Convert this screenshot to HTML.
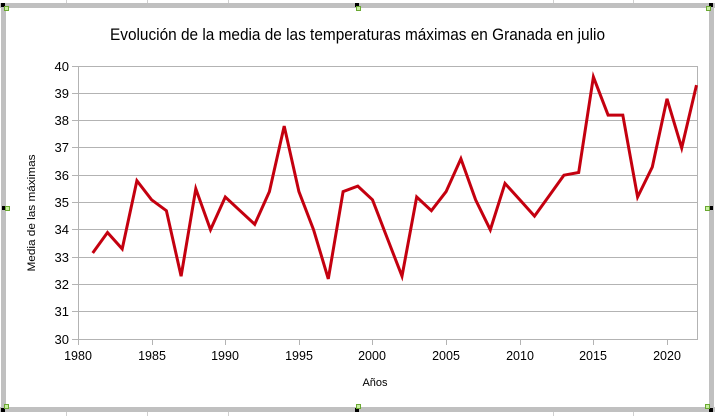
<!DOCTYPE html>
<html><head><meta charset="utf-8"><style>
html,body{margin:0;padding:0;background:#fff;}
svg{display:block;}
text{font-family:"Liberation Sans",sans-serif;fill:#000;}
</style></head><body>
<svg width="715" height="416" viewBox="0 0 715 416" xmlns="http://www.w3.org/2000/svg">
<rect x="0" y="0" width="715" height="416" fill="#fff"/>
<g stroke="#d0d0d0" stroke-width="1">
<line x1="66.5" y1="0" x2="66.5" y2="3"/><line x1="147.5" y1="0" x2="147.5" y2="3"/><line x1="228.5" y1="0" x2="228.5" y2="3"/>
<line x1="553.5" y1="0" x2="553.5" y2="3"/><line x1="633.5" y1="0" x2="633.5" y2="3"/>
<line x1="66.5" y1="412" x2="66.5" y2="416"/><line x1="147.5" y1="412" x2="147.5" y2="416"/><line x1="228.5" y1="412" x2="228.5" y2="416"/>
<line x1="553.5" y1="412" x2="553.5" y2="416"/><line x1="633.5" y1="412" x2="633.5" y2="416"/>
</g>
<g fill="#c0c0c0">
<rect x="0" y="3" width="715" height="5"/>
<rect x="0" y="407" width="715" height="5"/>
<rect x="1" y="3" width="5" height="409"/>
<rect x="709" y="3" width="5" height="409"/>
</g>
<g>
<rect x="1" y="3" width="4" height="4" fill="#000"/><rect x="4.5" y="6.5" width="4" height="4" fill="#c8f0a0" stroke="#6aa832"/>
<rect x="355" y="3" width="4" height="4" fill="#000"/><rect x="356.5" y="6.5" width="4" height="4" fill="#c8f0a0" stroke="#6aa832"/>
<rect x="709" y="3" width="4" height="4" fill="#000"/><rect x="706.5" y="6.5" width="4" height="4" fill="#c8f0a0" stroke="#6aa832"/>
<rect x="2" y="206" width="4" height="4" fill="#000"/><rect x="5.5" y="206.5" width="4" height="4" fill="#c8f0a0" stroke="#6aa832"/>
<rect x="709" y="206" width="4" height="4" fill="#000"/><rect x="705.5" y="206.5" width="4" height="4" fill="#c8f0a0" stroke="#6aa832"/>
<rect x="1" y="408" width="4" height="4" fill="#000"/><rect x="4.5" y="404.5" width="4" height="4" fill="#c8f0a0" stroke="#6aa832"/>
<rect x="355" y="408" width="4" height="4" fill="#000"/><rect x="356.5" y="404.5" width="4" height="4" fill="#c8f0a0" stroke="#6aa832"/>
<rect x="709" y="408" width="4" height="4" fill="#000"/><rect x="705.5" y="404.5" width="4" height="4" fill="#c8f0a0" stroke="#6aa832"/>
</g>
<text x="110" y="40" font-size="16.5" textLength="495" lengthAdjust="spacingAndGlyphs">Evolución de la media de las temperaturas máximas en Granada en julio</text>
<g stroke="#b3b3b3" stroke-width="1">
<line x1="72" y1="66.5" x2="697" y2="66.5"/>
<line x1="72" y1="93.5" x2="697" y2="93.5"/>
<line x1="72" y1="120.5" x2="697" y2="120.5"/>
<line x1="72" y1="147.5" x2="697" y2="147.5"/>
<line x1="72" y1="175.5" x2="697" y2="175.5"/>
<line x1="72" y1="202.5" x2="697" y2="202.5"/>
<line x1="72" y1="229.5" x2="697" y2="229.5"/>
<line x1="72" y1="257.5" x2="697" y2="257.5"/>
<line x1="72" y1="284.5" x2="697" y2="284.5"/>
<line x1="72" y1="311.5" x2="697" y2="311.5"/>
<line x1="72" y1="339.5" x2="697" y2="339.5"/>
<line x1="78.5" y1="66" x2="78.5" y2="345"/>
<line x1="697.5" y1="66" x2="697.5" y2="340"/>
<line x1="152.5" y1="339" x2="152.5" y2="345"/>
<line x1="225.5" y1="339" x2="225.5" y2="345"/>
<line x1="299.5" y1="339" x2="299.5" y2="345"/>
<line x1="372.5" y1="339" x2="372.5" y2="345"/>
<line x1="446.5" y1="339" x2="446.5" y2="345"/>
<line x1="520.5" y1="339" x2="520.5" y2="345"/>
<line x1="593.5" y1="339" x2="593.5" y2="345"/>
<line x1="667.5" y1="339" x2="667.5" y2="345"/>
</g>
<g font-size="13" text-anchor="end">
<text x="69" y="71">40</text>
<text x="69" y="98">39</text>
<text x="69" y="125">38</text>
<text x="69" y="152">37</text>
<text x="69" y="180">36</text>
<text x="69" y="207">35</text>
<text x="69" y="234">34</text>
<text x="69" y="262">33</text>
<text x="69" y="289">32</text>
<text x="69" y="316">31</text>
<text x="69" y="344">30</text>
</g>
<g font-size="12.5" text-anchor="middle">
<text x="78" y="360">1980</text>
<text x="152" y="360">1985</text>
<text x="225" y="360">1990</text>
<text x="299" y="360">1995</text>
<text x="372" y="360">2000</text>
<text x="446" y="360">2005</text>
<text x="520" y="360">2010</text>
<text x="593" y="360">2015</text>
<text x="667" y="360">2020</text>
</g>
<text x="375" y="386" font-size="11" text-anchor="middle">Años</text>
<text transform="translate(35,213) rotate(-90)" font-size="11" text-anchor="middle" textLength="117" lengthAdjust="spacingAndGlyphs">Media de las máximas</text>
<polyline fill="none" stroke="#c4000f" stroke-width="3" stroke-linejoin="miter" stroke-miterlimit="4" points="
92.7,253.0 107.5,232.5 122.2,248.9 136.9,180.7 151.6,199.8 166.4,210.7 181.1,276.2 195.8,188.8 210.5,229.8 225.3,197.0
240.0,210.7 254.7,224.3 269.4,191.6 284.2,126.1 298.9,191.6 313.6,229.8 328.3,278.9 343.1,191.6 357.8,186.1 372.5,199.8
387.2,238.0 402.0,276.2 416.7,197.0 431.4,210.7 446.1,191.6 460.9,158.8 475.6,199.8 490.3,229.8 505.0,183.4 519.8,199.8
534.5,216.1 549.2,195.7 563.9,175.2 578.7,172.5 593.4,76.9 608.1,115.1 622.8,115.1 637.6,197.0 652.3,167.0 667.0,98.8
681.7,147.9 696.5,85.1"/>
</svg>
</body></html>
